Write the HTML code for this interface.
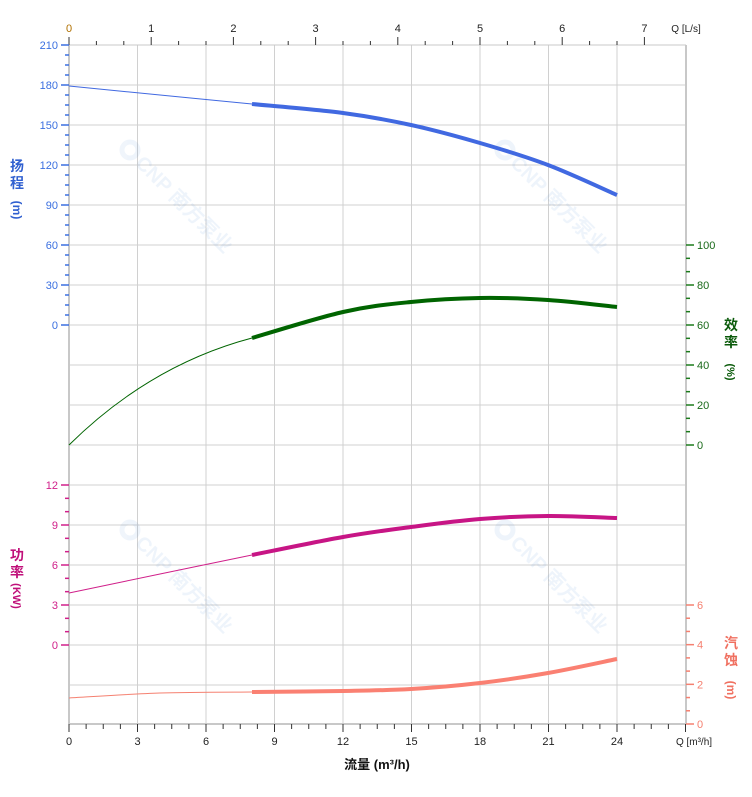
<!DOCTYPE html>
<html><head><meta charset="utf-8"><style>
html,body{margin:0;padding:0;background:#fff;}
svg{display:block;font-family:"Liberation Sans","Noto Sans CJK SC",sans-serif;}
</style></head><body>
<svg id="s" width="752" height="797" viewBox="0 0 752 797" xmlns="http://www.w3.org/2000/svg"></svg>
<script>
var s=document.getElementById('s'),h='';
var X0=69,X1=686,Y0=45,Y1=724,px=548/24;
function L(x1,y1,x2,y2,c,w){h+='<line x1="'+x1+'" y1="'+y1+'" x2="'+x2+'" y2="'+y2+'" stroke="'+c+'" stroke-width="'+(w||1)+'"/>';}
function T(x,y,t,c,a,fs,fw){h+='<text x="'+x+'" y="'+y+'" fill="'+c+'" font-size="'+(fs||11)+'" text-anchor="'+(a||'middle')+'"'+(fw?' font-weight="bold"':'')+'>'+t+'</text>';}
for(var i=1;i<=8;i++){var x=X0+i*3*px;L(x,Y0,x,Y1,'#d0d0d0');}
for(var y=85;y<724;y+=40)L(X0,y,X1,y,'#d0d0d0');
L(X0,Y0,X1,Y0,'#c8c8c8');L(X0,Y1,X1,Y1,'#c8c8c8',2);L(X0,Y0,X0,Y1,'#c8c8c8',2);L(X1,Y0,X1,Y1,'#c8c8c8',2);
for(var k=0;k<=36;k++){var q=k*0.75,x=X0+q*px;if(x>X1+0.5)break;var maj=(k%4==0);L(x,Y1,x,Y1+(maj?8:5),'#333');if(maj&&q<=24)T(x,745,q,'#222');}
T(694,745,'Q [m³/h]','#222','middle',10);
T(377,769,'流量 (m³/h)','#111','middle',13,1);
var lps=3.6*px;
for(var k=0;k<=21;k++){var x=X0+k*lps/3;if(x>X1)break;L(x,Y0,x,Y0-(k%3==0?8:4),'#333');if(k%3==0)T(x,32,k/3,k==0?'#b07000':'#222');}
T(686,32,'Q [L/s]','#222','middle',10);
var hb='#3a6fe0';
for(var v=0;v<=210;v+=7.5){var y=325-v*40/30;var m=(v%30==0);L(X0-(m?8:4),y,X0,y,hb,1.5);if(m)T(X0-11,y+4,v,hb,'end');}
T(17,171,'扬','#3060d0','middle',14,1);T(17,188,'程','#3060d0','middle',14,1);
h+='<text transform="translate(13,210) rotate(90)" fill="#3060d0" font-size="12" font-weight="bold" text-anchor="middle">(m)</text>';
var pc='#d0208a';
for(var v=0;v<=12;v+=1){var y=645-v*40/3;var m=(v%3==0);L(X0-(m?8:4),y,X0,y,pc,1.5);if(m)T(X0-11,y+4,v,pc,'end');}
T(17,560,'功','#c0107a','middle',14,1);T(17,577,'率','#c0107a','middle',14,1);
h+='<text transform="translate(13,596) rotate(90)" fill="#c0107a" font-size="11" font-weight="bold" text-anchor="middle">(KW)</text>';
var ec='#1a7a1a';
for(var k=0;k<=15;k++){var v=k*20/3,y=445-v*2;var m=(k%3==0);L(X1,y,X1+(m?8:4),y,ec,1.5);if(m)T(X1+11,y+4,Math.round(v),'#1a6a1a','start');}
T(731,330,'效','#0a5a0a','middle',14,1);T(731,347,'率','#0a5a0a','middle',14,1);
h+='<text transform="translate(727,372) rotate(90)" fill="#0a5a0a" font-size="11" font-weight="bold" text-anchor="middle">(%)</text>';
var nc='#f58070';
for(var k=0;k<=9;k++){var v=k*2/3,y=724-v*119/6;var m=(k%3==0);L(X1,y,X1+(m?8:4),y,nc,1.5);if(m)T(X1+11,y+4,Math.round(v),nc,'start');}
T(731,648,'汽','#f07060','middle',14,1);T(731,665,'蚀','#f07060','middle',14,1);
h+='<text transform="translate(727,690) rotate(90)" fill="#f07060" font-size="12" font-weight="bold" text-anchor="middle">(m)</text>';
function W(x,y){h+='<g transform="translate('+x+','+y+') rotate(45)" opacity="0.08" fill="#3a80d0"><circle cx="0" cy="0" r="8" fill="none" stroke="#3a80d0" stroke-width="5"/><text x="13" y="7" font-size="20" font-weight="bold">CNP 南方泵业</text></g>';}
W(130,150);W(505,150);W(130,530);W(505,530);
function C(pts,c,w){var d='M'+pts[0];for(var i=0;i<pts.length-1;i++){var p0=pts[i-1]||pts[i],p1=pts[i],p2=pts[i+1],p3=pts[i+2]||p2;
var c1=[p1[0]+(p2[0]-p0[0])/6,p1[1]+(p2[1]-p0[1])/6],c2=[p2[0]-(p3[0]-p1[0])/6,p2[1]-(p3[1]-p1[1])/6];d+=' C'+c1+' '+c2+' '+p2;}
h+='<path d="'+d+'" fill="none" stroke="'+c+'" stroke-width="'+w+'"/>';}
C([[69,86],[160,95],[252,104]],'#4169e1',1);
C([[252,104],[343,113],[411,125],[480,143],[548,165],[617,195]],'#4169e1',4);
h+='<path d="M69,445 Q150,365 252,338" fill="none" stroke="#006400" stroke-width="1"/>';
C([[252,338],[343,312],[411,302],[480,298],[548,300],[617,307]],'#006400',4);
C([[69,593],[160,574],[252,555]],'#d0208a',1);
C([[252,555],[343,537],[411,527],[480,519],[548,516],[617,518]],'#c71585',4);
C([[69,698],[160,693],[252,692]],'#f58070',1);
C([[252,692],[343,691],[411,689],[480,683],[548,673],[617,659]],'#fa8072',4);
s.innerHTML=h;
</script>
</body></html>
